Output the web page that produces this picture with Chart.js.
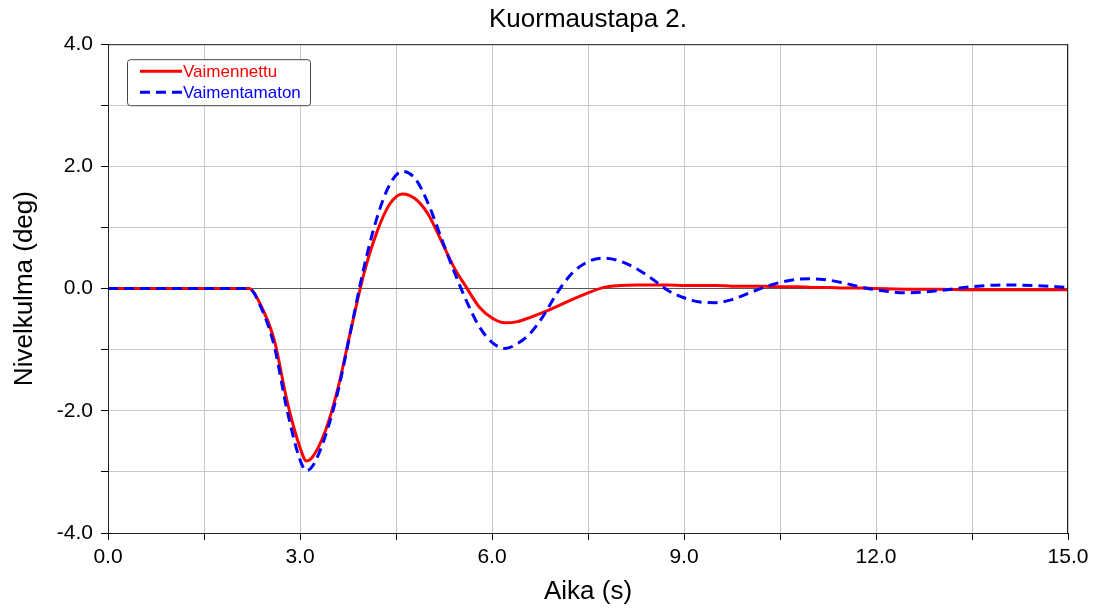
<!DOCTYPE html>
<html>
<head>
<meta charset="utf-8">
<script src="https://cdn.jsdelivr.net/npm/chart.js@4/dist/chart.umd.min.js"></script>
<style>
  body { margin: 0; background: #fff; }
  canvas { display: block; }
</style>
</head>
<body>
<canvas id="kulmaChart" width="1095" height="608"></canvas>
<script>
const times = [0, 1, 2, 2.2, 2.4, 2.6, 2.8, 3.0, 3.1, 3.2, 3.4, 3.6, 3.8, 4.0, 4.2, 4.4, 4.6, 4.8,
  5.0, 5.2, 5.4, 5.6, 5.8, 6.0, 6.2, 6.4, 6.6, 6.8, 7.0, 7.25, 7.5, 7.75, 8.0, 8.25, 8.5, 8.75,
  9.0, 9.25, 9.5, 9.75, 10, 10.25, 10.5, 10.75, 11, 11.25, 11.5, 11.75, 12, 12.5, 13, 13.5, 14, 14.5, 15];

const vaimennettu = [0, 0, 0, 0, -0.3, -0.85, -1.85, -2.6, -2.82, -2.75, -2.32, -1.6, -0.65, 0.25, 0.92, 1.38, 1.55, 1.47,
  1.22, 0.8, 0.36, 0.02, -0.3, -0.48, -0.56, -0.54, -0.47, -0.39, -0.3, -0.18, -0.07, 0.02, 0.05, 0.06, 0.06, 0.06,
  0.05, 0.05, 0.05, 0.04, 0.04, 0.04, 0.03, 0.03, 0.02, 0.02, 0.01, 0.01, 0, -0.01, -0.01, -0.02, -0.02, -0.02, -0.02];

const vaimentamaton = [0, 0, 0, 0, -0.33, -0.95, -2.0, -2.8, -2.98, -2.9, -2.4, -1.65, -0.65, 0.35, 1.15, 1.7, 1.92, 1.8,
  1.4, 0.85, 0.3, -0.2, -0.62, -0.88, -0.98, -0.9, -0.73, -0.45, -0.1, 0.25, 0.44, 0.5, 0.45, 0.33, 0.16, -0.03,
  -0.15, -0.22, -0.23, -0.18, -0.08, 0.02, 0.1, 0.15, 0.16, 0.14, 0.09, 0.03, -0.02, -0.07, -0.03, 0.03, 0.06, 0.05, 0.02];

const xLabelTicks = [0, 3, 6, 9, 12, 15];
const yLabelTicks = [-4, -2, 0, 2, 4];

const FONT = "'Liberation Sans', Arial, sans-serif";

// Legend box inside the plot, top-left
const boxLegend = {
  id: "boxLegend",
  afterDraw(chart) {
    const ctx = chart.ctx;
    const area = chart.chartArea;
    const x = area.left + 19, y = area.top + 15, w = 183, h = 46;
    ctx.save();
    ctx.beginPath();
    ctx.roundRect(x + 0.5, y + 0.5, w, h, 3);
    ctx.fillStyle = "#fff";
    ctx.fill();
    ctx.strokeStyle = "#444";
    ctx.lineWidth = 1;
    ctx.stroke();
    ctx.font = "17px " + FONT;
    ctx.textBaseline = "middle";
    const items = [chart.data.datasets[1], chart.data.datasets[0]];
    items.forEach((ds, i) => {
      const ly = y + 12 + i * 21;
      ctx.beginPath();
      ctx.setLineDash(ds.borderDash || []);
      ctx.strokeStyle = ds.borderColor;
      ctx.lineWidth = 3;
      ctx.moveTo(x + 13, ly);
      ctx.lineTo(x + 55, ly);
      ctx.stroke();
      ctx.setLineDash([]);
      ctx.fillStyle = ds.borderColor;
      ctx.fillText(ds.label, x + 56, ly + 1);
    });
    ctx.restore();
  },
};

// Frame around the plot area
const frame = {
  id: "frame",
  afterDatasetsDraw(chart) {
    const { ctx, chartArea: a } = chart;
    ctx.save();
    ctx.strokeStyle = "#222";
    ctx.lineWidth = 1;
    ctx.strokeRect(a.left + 0.5, a.top + 0.5, a.right - a.left - 1, a.bottom - a.top);
    ctx.restore();
  },
};

const ctx = document.getElementById("kulmaChart").getContext("2d");

new Chart(ctx, {
  type: "line",
  data: {
    datasets: [
      {
        label: "Vaimentamaton",
        data: times.map((t, i) => ({ x: t, y: vaimentamaton[i] })),
        borderColor: "#0000ff",
        borderWidth: 3,
        borderDash: [10, 6],
        pointRadius: 0,
        cubicInterpolationMode: "monotone",
        order: 0,
      },
      {
        label: "Vaimennettu",
        data: times.map((t, i) => ({ x: t, y: vaimennettu[i] })),
        borderColor: "#ff0000",
        borderWidth: 3,
        pointRadius: 0,
        cubicInterpolationMode: "monotone",
        order: 1,
      },
    ],
  },
  options: {
    responsive: false,
    animation: false,
    layout: { padding: { left: 0, right: 27, top: 0, bottom: 0 } },
    plugins: {
      legend: { display: false },
      tooltip: { enabled: false },
      title: {
        display: true,
        fullSize: false,
        text: "Kuormaustapa 2.",
        color: "#000",
        font: { family: FONT, size: 26, weight: "normal" },
        padding: { top: 4, bottom: 9 },
      },
    },
    scales: {
      x: {
        type: "linear",
        min: 0,
        max: 15,
        afterFit: (s) => { s.height = 75; },
        afterBuildTicks: (s) => {
          s.ticks = [];
          for (let i = 0; i <= 10; i++) s.ticks.push({ value: i * 1.5 });
        },
        ticks: {
          autoSkip: false,
          maxRotation: 0,
          padding: 5,
          color: "#000",
          font: { family: FONT, size: 21 },
          callback: (v) => (xLabelTicks.some((t) => Math.abs(t - v) < 1e-6) ? v.toFixed(1) : ""),
        },
        grid: { color: "#c8c8c8", tickColor: "#000", tickLength: 7, lineWidth: 1 },
        border: { color: "#000" },
        title: {
          display: true,
          text: "Aika (s)",
          color: "#000",
          font: { family: FONT, size: 26 },
          padding: { top: 0, bottom: 1 },
        },
      },
      y: {
        min: -4,
        max: 4,
        afterFit: (s) => { s.width = 108; },
        ticks: {
          stepSize: 1,
          padding: 8,
          color: "#000",
          font: { family: FONT, size: 21 },
          callback: (v) => (yLabelTicks.includes(v) ? v.toFixed(1) : ""),
        },
        grid: {
          color: (c) => (c.tick && c.tick.value === 0 ? "#555" : "#c8c8c8"),
          tickColor: "#000",
          tickLength: 7,
          lineWidth: 1,
        },
        border: { color: "#000" },
        title: {
          display: true,
          text: "Nivelkulma (deg)",
          color: "#000",
          font: { family: FONT, size: 26 },
          padding: { top: 9, bottom: 0 },
        },
      },
    },
  },
  plugins: [frame, boxLegend],
});
</script>
</body>
</html>
